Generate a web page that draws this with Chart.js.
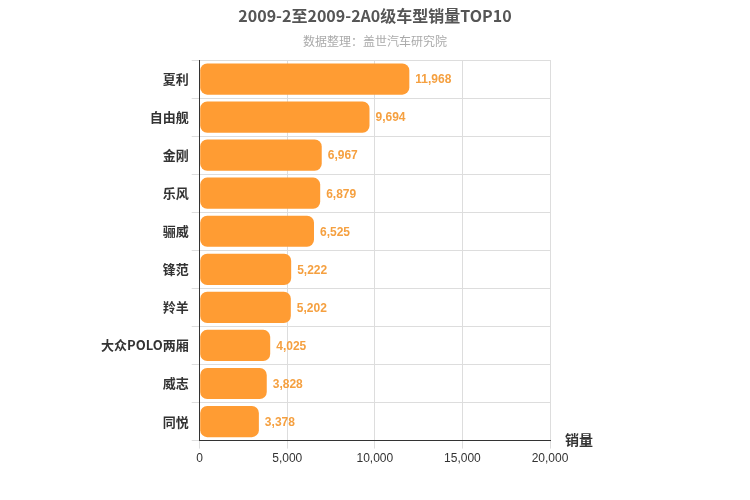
<!DOCTYPE html>
<html><head><meta charset="utf-8">
<script src="https://cdn.jsdelivr.net/npm/chart.js"></script>
<style>body{margin:0;background:#fff}#wrap{width:750px;height:500px}</style>
</head><body><div id="wrap"><canvas id="c"></canvas></div>
<script>
const models = ["夏利","自由舰","金刚","乐风","骊威","锋范","羚羊","大众POLO两厢","威志","同悦"];
const sales = [11968,9694,6967,6879,6525,5222,5202,4025,3828,3378];
const xTicks = [0,5000,10000,15000,20000];

const extras = {
  id: "extras",
  afterDatasetsDraw(chart){
    const ctx = chart.ctx;
    const meta = chart.getDatasetMeta(0);
    ctx.save();
    ctx.font = "bold 12px 'Liberation Sans', Arial, sans-serif";
    ctx.fillStyle = "#f5a040";
    ctx.textBaseline = "middle";
    meta.data.forEach((bar, i) => {
      ctx.fillText(sales[i].toLocaleString("en-US"), bar.x + 6, bar.y + 1);
    });
    ctx.font = "bold 14px 'Noto Sans CJK SC', sans-serif";
    ctx.fillStyle = "#333";
    ctx.textBaseline = "alphabetic";
    ctx.fillText("销量", chart.chartArea.right + 15, chart.chartArea.bottom + 4);
    // title + subtitle centred on the canvas
    ctx.textAlign = "center";
    ctx.textBaseline = "middle";
    ctx.fillStyle = "#555";
    ctx.font = "bold 16px 'Noto Sans CJK SC', sans-serif";
    ctx.fillText("2009-2至2009-2A0级车型销量TOP10", 375, 16);
    ctx.fillStyle = "#aaa";
    ctx.font = "12px 'Noto Sans CJK SC', sans-serif";
    ctx.fillText("数据整理：盖世汽车研究院", 375, 41);
    ctx.restore();
  }
};

new Chart(document.getElementById("c"), {
  type: "bar",
  data: { labels: models, datasets: [{ data: sales, backgroundColor: "#ff9c33",
    borderRadius: 7, borderSkipped: false, barPercentage: 0.82, categoryPercentage: 1 }] },
  options: {
    indexAxis: "y", responsive: true, maintainAspectRatio: false, animation: false,
    layout: { padding: { left: 98, right: 200, top: 60, bottom: 31 } },
    plugins: { legend: { display: false }, tooltip: { enabled: false } },
    scales: {
      x: { min: 0, max: 20000, afterBuildTicks(s){ s.ticks = xTicks.map(v => ({ value: v })); },
        grid: { color: "#ddd" }, border: { color: "#333" },
        ticks: { color: "#333", font: { size: 12 }, callback: v => v.toLocaleString("en-US") } },
      y: { grid: { color: "#ddd" }, border: { color: "#333" },
        ticks: { color: "#333", font: { size: 13, weight: "bold", family: "'Noto Sans CJK SC', sans-serif" } } }
    }
  },
  plugins: [extras]
});
</script></body></html>
